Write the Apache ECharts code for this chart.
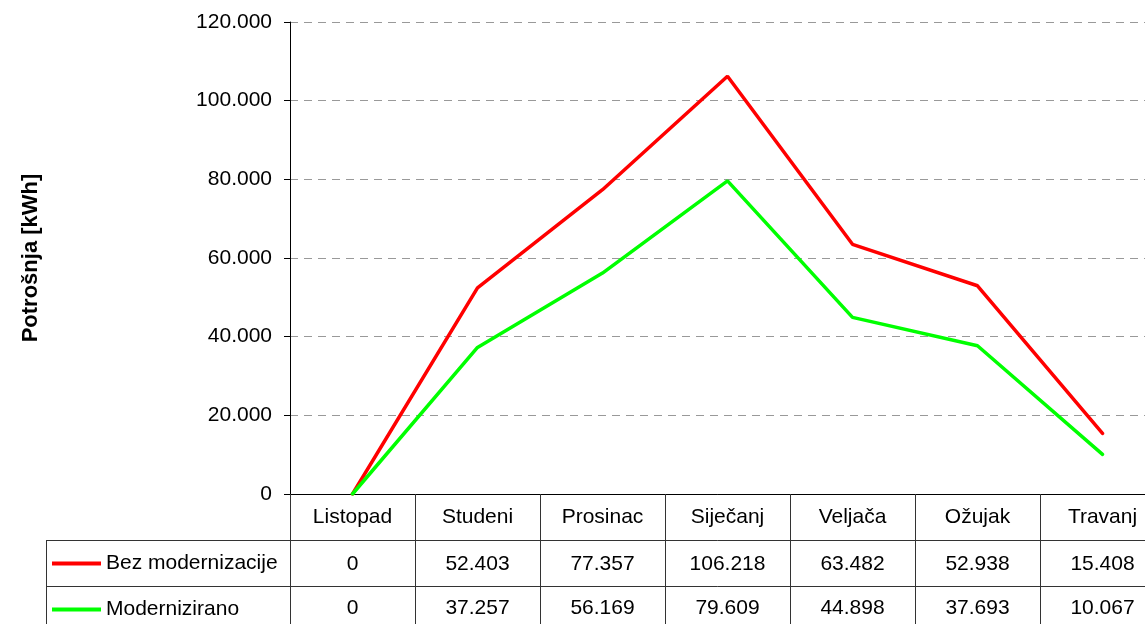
<!DOCTYPE html>
<html><head><meta charset="utf-8">
<script src="https://cdn.jsdelivr.net/npm/echarts@6/dist/echarts.min.js"></script>
<style>html,body{margin:0;padding:0;background:#fff}#c{width:1145px;height:624px}</style>
</head><body><div id="c"></div>
<script>
const categories = ['Listopad','Studeni','Prosinac','Siječanj','Veljača','Ožujak','Travanj'];
const seriesNames = ['Bez modernizacije','Modernizirano'];
const bezModernizacije = [0, 52403, 77357, 106218, 63482, 52938, 15408];
const modernizirano = [0, 37257, 56169, 79609, 44898, 37693, 10067];
const yAxisName = 'Potrošnja [kWh]';

function fmt(v){
  const s = Math.round(v).toString();
  return s.replace(/\B(?=(\d{3})+(?!\d))/g, '.');
}
const FONT = 'Liberation Sans, Arial, sans-serif';
const FS = 21;
const chart = echarts.init(document.getElementById('c'));
const lineColor = '#333';
chart.setOption({
  animation: false,
  textStyle: {fontFamily: FONT},
  grid: {left: 290, width: 875, top: 22, bottom: 130, containLabel: false, outerBoundsMode: 'none'},
  legend: {
    orient: 'vertical', left: 52, top: 553, padding: 0,
    icon: 'rect', itemWidth: 49, itemHeight: 4, itemGap: 25,
    textStyle: {fontSize: FS, fontFamily: FONT, color: '#000', lineHeight: 21},
    data: seriesNames
  },
  xAxis: [
    {type: 'category', data: categories, position: 'bottom', boundaryGap: true,
     axisLine: {show: true, lineStyle: {color: '#000', width: 1}},
     axisTick: {show: true, interval: 0, length: 130, lineStyle: {color: lineColor}},
     axisLabel: {interval: 0, fontSize: FS, color: '#000', margin: 13, fontFamily: FONT},
     splitLine: {show: false}},
    {type: 'category', data: categories, position: 'bottom', offset: 46, boundaryGap: true,
     axisLine: {show: true, lineStyle: {color: lineColor, width: 1}},
     axisTick: {show: false},
     axisLabel: {interval: 0, fontSize: FS, color: '#000', margin: 14, fontFamily: FONT,
       formatter: (v, i) => fmt(bezModernizacije[i])}},
    {type: 'category', data: categories, position: 'bottom', offset: 92, boundaryGap: true,
     axisLine: {show: true, lineStyle: {color: lineColor, width: 1}},
     axisTick: {show: false},
     axisLabel: {interval: 0, fontSize: FS, color: '#000', margin: 12, fontFamily: FONT,
       formatter: (v, i) => fmt(modernizirano[i])}}
  ],
  yAxis: {
    type: 'value', min: 0, max: 120000, interval: 20000,
    name: yAxisName, nameLocation: 'middle', nameRotate: 90, nameGap: 248,
    nameTextStyle: {fontSize: 22, fontWeight: 'bold', color: '#000', fontFamily: FONT},
    axisLine: {show: true, lineStyle: {color: '#000', width: 1}},
    axisTick: {show: true, length: 6, lineStyle: {color: '#000'}},
    axisLabel: {fontSize: FS, color: '#000', margin: 18, fontFamily: FONT, formatter: v => fmt(v)},
    splitLine: {show: true, lineStyle: {color: '#999', type: [8, 6], width: 1}}
  },
  series: [
    {name: seriesNames[0], type: 'line', data: bezModernizacije, symbol: 'none',
     lineStyle: {color: '#ff0000', width: 3.5, cap: 'round'}, itemStyle: {color: '#ff0000'}},
    {name: seriesNames[1], type: 'line', data: modernizirano, symbol: 'none',
     lineStyle: {color: '#00ff00', width: 3.5, cap: 'round'}, itemStyle: {color: '#00ff00'}}
  ],
  graphic: [
    {type: 'line', shape: {x1: 46.5, y1: 540, x2: 46.5, y2: 624}, style: {stroke: lineColor, lineWidth: 1}},
    {type: 'line', shape: {x1: 46, y1: 540.5, x2: 290, y2: 540.5}, style: {stroke: lineColor, lineWidth: 1}},
    {type: 'line', shape: {x1: 46, y1: 586.5, x2: 290, y2: 586.5}, style: {stroke: lineColor, lineWidth: 1}}
  ]
});
</script></body></html>
